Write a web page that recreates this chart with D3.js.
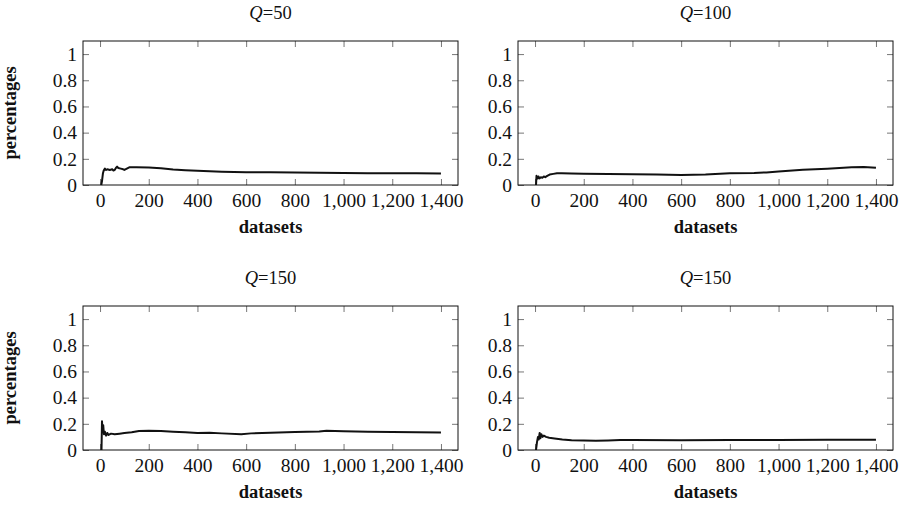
<!DOCTYPE html>
<html>
<head>
<meta charset="utf-8">
<script src="https://cdn.jsdelivr.net/npm/d3@7"></script>
<style>
  body { margin: 0; background: #fff; }
</style>
</head>
<body>
<div id="chart"></div>
<script>
// values
var titles = ["50", "100", "150", "150"];
var xTicks = [0, 200, 400, 600, 800, 1000, 1200, 1400];
var yTicks = [0, 0.2, 0.4, 0.6, 0.8, 1];

var q50X = [5, 8, 12, 15, 20, 25, 30, 40, 50, 55, 60, 65, 70, 75, 85, 95, 100, 110, 120, 150, 200, 250, 300, 350, 400, 500, 600, 700, 800, 900, 1000, 1100, 1200, 1300, 1400];
var q50Y = [0, 0.03, 0.09, 0.11, 0.125, 0.115, 0.12, 0.115, 0.12, 0.11, 0.115, 0.13, 0.14, 0.13, 0.125, 0.12, 0.115, 0.125, 0.135, 0.136, 0.134, 0.128, 0.118, 0.112, 0.108, 0.102, 0.098, 0.097, 0.095, 0.094, 0.091, 0.09, 0.089, 0.089, 0.088];

var q100X = [4, 6, 10, 14, 18, 24, 30, 36, 42, 50, 60, 75, 90, 110, 150, 200, 300, 400, 500, 600, 700, 800, 900, 950, 1000, 1100, 1200, 1300, 1350, 1400];
var q100Y = [0, 0.07, 0.05, 0.065, 0.05, 0.06, 0.055, 0.065, 0.06, 0.07, 0.08, 0.085, 0.09, 0.089, 0.087, 0.085, 0.084, 0.083, 0.08, 0.077, 0.08, 0.09, 0.092, 0.096, 0.103, 0.117, 0.125, 0.135, 0.138, 0.132];

var q150aX = [6, 8, 10, 13, 16, 20, 25, 30, 35, 45, 60, 80, 100, 130, 160, 200, 250, 300, 350, 400, 450, 500, 580, 620, 700, 800, 900, 930, 1000, 1100, 1200, 1300, 1400];
var q150aY = [0, 0.22, 0.15, 0.19, 0.12, 0.14, 0.11, 0.13, 0.115, 0.125, 0.12, 0.125, 0.13, 0.135, 0.145, 0.147, 0.145, 0.14, 0.135, 0.13, 0.132, 0.127, 0.12, 0.127, 0.132, 0.138, 0.142, 0.147, 0.143, 0.14, 0.138, 0.136, 0.134];

var q150bX = [4, 8, 12, 15, 19, 22, 26, 31, 36, 45, 58, 80, 112, 150, 200, 250, 300, 350, 400, 600, 800, 1000, 1200, 1400];
var q150bY = [0, 0.06, 0.1, 0.08, 0.13, 0.09, 0.12, 0.1, 0.11, 0.1, 0.093, 0.088, 0.08, 0.075, 0.072, 0.071, 0.073, 0.076, 0.076, 0.075, 0.076, 0.077, 0.078, 0.079];

var seriesX = [q50X, q100X, q150aX, q150bX];
var seriesY = [q50Y, q100Y, q150aY, q150bY];

var width = 905, height = 505;
var boxW = 375, boxH = 144;
var lefts = [83, 518];
var tops = [41, 306];
var serif = "Liberation Serif, Tinos, Times New Roman, DejaVu Serif, serif";

var svg = d3.select("#chart").append("svg")
    .attr("width", width)
    .attr("height", height)
    .attr("font-family", serif);

var x = d3.scaleLinear().domain([-70, 1470]).range([0, boxW]);
var y = d3.scaleLinear().domain([0, 1.1]).range([boxH, 0]);

var fmt = d3.format(",");

for (var i = 0; i < 4; i++) {
    var col = i % 2, row = Math.floor(i / 2);
    var g = svg.append("g")
        .attr("transform", "translate(" + lefts[col] + "," + tops[row] + ")");

    // inward ticks on all four sides
    g.append("g").attr("class", "ax")
        .attr("transform", "translate(0," + boxH + ")")
        .call(d3.axisBottom(x).tickValues(xTicks).tickSize(-6).tickPadding(8).tickFormat(fmt));
    g.append("g").attr("class", "ax")
        .call(d3.axisTop(x).tickValues(xTicks).tickSize(-6).tickFormat(""));
    g.append("g").attr("class", "ax")
        .call(d3.axisLeft(y).tickValues(yTicks).tickSize(-6).tickPadding(6).tickFormat(function(d) { return d; }));
    g.append("g").attr("class", "ax")
        .attr("transform", "translate(" + boxW + ",0)")
        .call(d3.axisRight(y).tickValues(yTicks).tickSize(-6).tickFormat(""));

    g.selectAll(".ax").attr("font-family", serif).attr("font-size", null);
    g.selectAll(".ax .domain").remove();
    g.selectAll(".ax line").attr("stroke", "#777").attr("stroke-width", 1);
    g.selectAll(".ax text").attr("font-size", "19.5px").attr("fill", "#111");

    g.append("rect")
        .attr("width", boxW).attr("height", boxH)
        .attr("fill", "none").attr("stroke", "#111").attr("stroke-width", 1);

    var xs = seriesX[i], ys = seriesY[i];
    var line = d3.line()
        .x(function(d, k) { return x(xs[k]); })
        .y(function(d, k) { return y(ys[k]); });
    g.append("path")
        .datum(xs)
        .attr("d", line)
        .attr("fill", "none")
        .attr("stroke", "#111")
        .attr("stroke-width", 2)
        .attr("stroke-linejoin", "round");

    // title
    var t = g.append("text")
        .attr("x", boxW / 2).attr("y", -22)
        .attr("text-anchor", "middle")
        .attr("font-size", "18.5px")
        .attr("fill", "#111");
    t.append("tspan").attr("font-style", "italic").text("Q");
    t.append("tspan").text("=" + titles[i]);

    // x label
    g.append("text")
        .attr("x", boxW / 2).attr("y", boxH + 48)
        .attr("text-anchor", "middle")
        .attr("font-size", "18.5px")
        .attr("font-weight", "bold")
        .attr("fill", "#111")
        .text("datasets");

    if (col === 0) {
        g.append("text")
            .attr("transform", "translate(-67," + (boxH / 2) + ") rotate(-90)")
            .attr("text-anchor", "middle")
            .attr("font-size", "18.5px")
            .attr("font-weight", "bold")
            .attr("fill", "#111")
            .text("percentages");
    }
}
</script>
</body>
</html>
